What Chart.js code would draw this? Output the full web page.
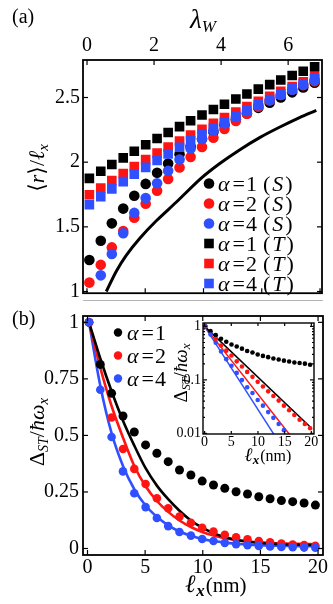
<!DOCTYPE html>
<html>
<head>
<meta charset="utf-8">
<script src="https://cdn.jsdelivr.net/npm/chart.js@4.4.1/dist/chart.umd.min.js"></script>
<style>
html, body { margin: 0; padding: 0; background: #fff; }
#tela { position: relative; width: 333px; height: 604px; overflow: hidden; }
#caixaA { position: absolute; left: 0; top: 0; width: 333px; height: 300px; }
#caixaB { position: absolute; left: 0; top: 300px; width: 333px; height: 304px; }
#caixaC { position: absolute; left: 150px; top: 310px; width: 172px; height: 160px; }
</style>
</head>
<body>
<div id="tela">
  <div id="caixaA"><canvas id="graficoA"></canvas></div>
  <div id="caixaB"><canvas id="graficoB"></canvas></div>
  <div id="caixaC"><canvas id="graficoC"></canvas></div>
</div>
<script>
// -------- dados painel (a) --------
const lambdaW = [0.07, 0.41, 0.74, 1.08, 1.41, 1.75, 2.09, 2.42, 2.76, 3.09, 3.43, 3.77, 4.10, 4.44, 4.77, 5.11, 5.45, 5.78, 6.12, 6.45, 6.79];
const rS1 = [1.244, 1.392, 1.527, 1.641, 1.740, 1.832, 1.918, 1.990, 2.061, 2.122, 2.18, 2.234, 2.285, 2.332, 2.377, 2.42, 2.46, 2.50, 2.54, 2.578, 2.615];
const rS2 = [1.069, 1.206, 1.341, 1.468, 1.570, 1.679, 1.779, 1.870, 1.959, 2.040, 2.117, 2.189, 2.256, 2.318, 2.375, 2.428, 2.477, 2.52, 2.56, 2.595, 2.625];
const rS4 = [null, 1.125, 1.29, 1.450, 1.608, 1.723, 1.837, 1.934, 2.021, 2.105, 2.18, 2.245, 2.30, 2.35, 2.395, 2.44, 2.48, 2.52, 2.56, 2.60, 2.635];
const rT1 = [1.875, 1.93, 1.982, 2.033, 2.084, 2.135, 2.183, 2.229, 2.275, 2.32, 2.365, 2.407, 2.448, 2.488, 2.527, 2.565, 2.60, 2.635, 2.67, 2.703, 2.737];
const rT2 = [1.748, 1.80, 1.857, 1.912, 1.967, 2.02, 2.07, 2.117, 2.163, 2.21, 2.255, 2.30, 2.345, 2.387, 2.43, 2.47, 2.509, 2.547, 2.585, 2.622, 2.66];
const rT4 = [1.672, 1.733, 1.794, 1.850, 1.907, 1.960, 2.013, 2.063, 2.115, 2.165, 2.215, 2.263, 2.31, 2.355, 2.40, 2.443, 2.485, 2.526, 2.567, 2.606, 2.645];
const curvaLambda = [0.575, 0.87, 1.17, 1.57, 2.06, 2.66, 3.40, 3.96, 4.55, 5.15, 5.74, 6.34, 6.84];
const curvaR = [1.0, 1.155, 1.28, 1.41, 1.545, 1.69, 1.875, 1.99, 2.095, 2.19, 2.27, 2.345, 2.40];
const ticksLambda = [0, 2, 4, 6];
const ticksR = [1, 1.5, 2, 2.5];
const ticksEllA = [0, 5, 10, 15, 20];
const legAlpha = ["1", "2", "4", "1", "2", "4"];
const legEstado = ["S", "S", "S", "T", "T", "T"];

// -------- dados painel (b) --------
const ellX = [0.13, 1.11, 2.09, 3.08, 4.06, 5.04, 6.02, 7.0, 7.98, 8.97, 9.95, 10.93, 11.91, 12.89, 13.88, 14.86, 15.84, 16.82, 17.8, 18.79, 19.77];
const gap1 = [1.0, 0.814, 0.686, 0.586, 0.515, 0.458, 0.421, 0.384, 0.347, 0.325, 0.298, 0.281, 0.266, 0.251, 0.241, 0.229, 0.22, 0.212, 0.207, 0.201, 0.192];
const gap2 = [1.0, null, 0.579, 0.44, 0.352, 0.285, 0.222, 0.178, 0.141, 0.114, 0.092, 0.075, 0.061, 0.05, 0.041, 0.033, 0.027, 0.022, 0.018, 0.015, 0.0125];
const gap4 = [1.0, 0.702, 0.493, 0.341, 0.244, 0.183, 0.135, 0.099, 0.073, 0.057, 0.042, 0.033, 0.025, 0.0195, 0.015, 0.0115, 0.009, 0.0069, 0.0053, 0.0041, 0.0032];
const ajuste1 = [1, 0.84, 0.695, 0.565, 0.455, 0.355, 0.278, 0.218, 0.167, 0.124, 0.092, 0.068, 0.051, 0.039, 0.031, 0.026, 0.022, 0.019, 0.017, 0.016, 0.015];
const ajuste2 = [1, 0.80, 0.63, 0.49, 0.365, 0.275, 0.21, 0.162, 0.124, 0.095, 0.073, 0.057, 0.045, 0.037, 0.031, 0.027, 0.024, 0.022, 0.021, 0.02, 0.019];
const ajuste4 = [1, 0.72, 0.51, 0.365, 0.262, 0.19, 0.14, 0.102, 0.075, 0.056, 0.042, 0.033, 0.026, 0.021, 0.017, 0.015, 0.013, 0.012, 0.011, 0.01, 0.01];
const ticksEll = [0, 5, 10, 15, 20];
const ticksGap = [0, 0.25, 0.5, 0.75, 1];
const legAlphaB = ["1", "2", "4"];

// -------- dados do inset (log) --------
const insetRetaX = [0, 20];
const insetReta1 = [1, 0.0126];
const insetReta2 = [1, 0.0029];
const insetReta4 = [1, 0.00078];
const ticksLog = [0.01, 0.1, 1];
const ticksLogMenores = [0.02, 0.03, 0.04, 0.05, 0.06, 0.07, 0.08, 0.09, 0.2, 0.3, 0.4, 0.5, 0.6, 0.7, 0.8, 0.9];

const PRETO = "#000000";
const VERMELHO = "#ff1414";
const AZUL = "#3050ff";
const FAM = '"Liberation Serif", "DejaVu Serif", serif';
const F = (tam, estilo) => (estilo || "") + " " + tam + "px " + FAM;

const pts = (xs, ys) => xs.map((x, i) => ({ x: x, y: ys[i] }));

// escreve texto com pedaços (italico, subscrito)
function textoRico(ctx, partes, x, y, alinhar) {
  let total = 0;
  partes.forEach(p => { ctx.font = p[1]; total += (p[3] || 0) + ctx.measureText(p[0]).width; });
  let cx = alinhar === "center" ? x - total / 2 : x;
  ctx.textAlign = "left";
  ctx.textBaseline = "alphabetic";
  partes.forEach(p => {
    ctx.font = p[1];
    cx += p[3] || 0;
    ctx.fillText(p[0], cx, y + (p[2] || 0));
    cx += ctx.measureText(p[0]).width;
  });
}

function textoVertical(ctx, partes, cx, cy) {
  ctx.save();
  ctx.translate(cx, cy);
  ctx.rotate(-Math.PI / 2);
  textoRico(ctx, partes, 0, 0, "center");
  ctx.restore();
}

// moldura + ticks para dentro
function moldura(specs, largura) {
  return {
    id: "moldura",
    afterDatasetsDraw(chart) {
      const ctx = chart.ctx;
      const a = chart.chartArea;
      ctx.save();
      ctx.strokeStyle = PRETO;
      ctx.lineWidth = 1.2;
      specs.forEach(s => {
        const sc = chart.scales[s.eixo];
        s.valores.forEach(v => {
          const p = sc.getPixelForValue(v);
          s.lados.forEach(lado => {
            ctx.beginPath();
            if (lado === "left") { ctx.moveTo(a.left, p); ctx.lineTo(a.left + s.tam, p); }
            if (lado === "right") { ctx.moveTo(a.right, p); ctx.lineTo(a.right - s.tam, p); }
            if (lado === "top") { ctx.moveTo(p, a.top); ctx.lineTo(p, a.top + s.tam); }
            if (lado === "bottom") { ctx.moveTo(p, a.bottom); ctx.lineTo(p, a.bottom - s.tam); }
            ctx.stroke();
          });
        });
      });
      ctx.lineWidth = largura;
      ctx.strokeRect(a.left, a.top, a.right - a.left, a.bottom - a.top);
      ctx.restore();
    }
  };
}

// tamanho fixo do eixo, sem margem extra para rotulos
function fixa(tam) {
  return s => {
    if (s.isHorizontal()) s.height = tam; else s.width = tam;
    s.paddingLeft = 0; s.paddingRight = 0; s.paddingTop = 0; s.paddingBottom = 0;
  };
}

function eixo(extra) {
  return Object.assign({
    type: "linear",
    grid: { display: false, drawTicks: false },
    border: { display: false }
  }, extra);
}

function rotulos(tam, pad) {
  return { color: PRETO, font: { family: FAM, size: tam }, padding: pad, maxRotation: 0, autoSkip: false, callback: v => String(v) };
}

const baseOpcoes = {
  responsive: true,
  maintainAspectRatio: false,
  animation: false,
  devicePixelRatio: 1,
  events: []
};

// -------- GRAFICO (a) --------
new Chart(document.getElementById("graficoA"), {
  type: "scatter",
  data: {
    datasets: [
      { data: pts(lambdaW, rS1), backgroundColor: PRETO, borderWidth: 0, pointRadius: 5.3, order: 6 },
      { data: pts(lambdaW, rS2), backgroundColor: VERMELHO, borderWidth: 0, pointRadius: 5.3, order: 5 },
      { data: pts(lambdaW, rS4), backgroundColor: AZUL, borderWidth: 0, pointRadius: 5.3, order: 4 },
      { data: pts(lambdaW, rT1), backgroundColor: PRETO, borderWidth: 0, pointStyle: "rect", pointRadius: 6.8, order: 3 },
      { data: pts(lambdaW, rT2), backgroundColor: VERMELHO, borderWidth: 0, pointStyle: "rect", pointRadius: 6.8, order: 2 },
      { data: pts(lambdaW, rT4), backgroundColor: AZUL, borderWidth: 0, pointStyle: "rect", pointRadius: 6.8, order: 1 },
      { data: pts(curvaLambda, curvaR), showLine: true, pointRadius: 0, borderColor: PRETO, borderWidth: 3, tension: 0.3, order: 7 }
    ]
  },
  options: Object.assign({}, baseOpcoes, {
    layout: { padding: { left: 0, right: 11, top: 0, bottom: 0 } },
    plugins: { legend: { display: false }, tooltip: { enabled: false } },
    scales: {
      x: eixo({ position: "top", min: -0.12, max: 7.01,
        afterBuildTicks: s => { s.ticks = ticksLambda.map(v => ({ value: v })); },
        afterFit: fixa(60),
        ticks: rotulos(20, 2) }),
      xl: eixo({ position: "bottom", min: -0.34, max: 20.17,
        afterBuildTicks: s => { s.ticks = ticksEllA.map(v => ({ value: v })); },
        afterFit: fixa(5),
        ticks: { display: false } }),
      y: eixo({ min: 0.987, max: 2.79,
        afterBuildTicks: s => { s.ticks = ticksR.map(v => ({ value: v })); },
        afterFit: fixa(83),
        ticks: rotulos(20, 3) })
    }
  }),
  plugins: [
    moldura([
      { eixo: "x", valores: ticksLambda, lados: ["top"], tam: 5 },
      { eixo: "xl", valores: ticksEllA, lados: ["bottom"], tam: 5 },
      { eixo: "y", valores: ticksR, lados: ["left", "right"], tam: 5 }
    ], 1.8),
    {
      id: "textosA",
      afterDraw(chart) {
        const ctx = chart.ctx;
        ctx.save();
        ctx.fillStyle = PRETO;
        textoRico(ctx, [["(a)", F(20)]], 12, 23);
        textoRico(ctx, [["λ", F(27, "italic")], ["W", F(17, "italic"), 4, 0]], 203, 28, "center");
        textoVertical(ctx, [["⟨", F(22)], ["r", F(22, "italic")], ["⟩", F(22)], ["/", F(22)], ["ℓ", F(22, "italic")], ["x", F(15, "italic"), 4]], 44, 168);
        // legenda
        const cores = [PRETO, VERMELHO, AZUL, PRETO, VERMELHO, AZUL];
        legAlpha.forEach((a, i) => {
          const y = 183.5 + 20 * i;
          ctx.fillStyle = cores[i];
          if (legEstado[i] === "S") {
            ctx.beginPath(); ctx.arc(209, y, 5.3, 0, Math.PI * 2); ctx.fill();
          } else {
            ctx.fillRect(204.2, y - 4.8, 9.6, 9.6);
          }
          ctx.fillStyle = PRETO;
          textoRico(ctx, [["α", F(22, "italic")], ["=", F(22), 0, 3], [a, F(22), 0, 1], ["(", F(22), 0, 6], [legEstado[i], F(22, "italic"), 0, 2], [")", F(22), 0, 2]], 218, y + 7);
        });
        ctx.restore();
      }
    }
  ]
});

// -------- GRAFICO (b) --------
new Chart(document.getElementById("graficoB"), {
  type: "scatter",
  data: {
    datasets: [
      { data: pts(ellX, gap1), backgroundColor: PRETO, borderWidth: 0, pointRadius: 4.5, order: 3 },
      { data: pts(ellX, gap2), backgroundColor: VERMELHO, borderWidth: 0, pointRadius: 4.3, order: 2 },
      { data: pts(ellX, gap4), backgroundColor: AZUL, borderWidth: 0, pointRadius: 4.3, order: 1 },
      { data: pts(ellX, ajuste1), showLine: true, pointRadius: 0, borderColor: PRETO, borderWidth: 2.6, tension: 0.3, order: 4 },
      { data: pts(ellX, ajuste2), showLine: true, pointRadius: 0, borderColor: VERMELHO, borderWidth: 2.6, tension: 0.3, order: 5 },
      { data: pts(ellX, ajuste4), showLine: true, pointRadius: 0, borderColor: AZUL, borderWidth: 2.6, tension: 0.3, order: 6 }
    ]
  },
  options: Object.assign({}, baseOpcoes, {
    layout: { padding: { left: 0, right: 10, top: 16, bottom: 0 } },
    plugins: { legend: { display: false }, tooltip: { enabled: false } },
    scales: {
      x: eixo({ position: "bottom", min: -0.39, max: 20.43,
        afterBuildTicks: s => { s.ticks = ticksEll.map(v => ({ value: v })); },
        afterFit: fixa(49),
        ticks: rotulos(20, 1) }),
      y: eixo({ min: -0.0287, max: 1.028,
        afterBuildTicks: s => { s.ticks = ticksGap.map(v => ({ value: v })); },
        afterFit: fixa(83),
        ticks: rotulos(20, 4) })
    }
  }),
  plugins: [
    moldura([
      { eixo: "x", valores: ticksEll, lados: ["top", "bottom"], tam: 5 },
      { eixo: "y", valores: ticksGap, lados: ["left", "right"], tam: 5 }
    ], 1.8),
    {
      id: "textosB",
      afterDraw(chart) {
        const ctx = chart.ctx;
        ctx.save();
        ctx.strokeStyle = "#b4b4b4";
        ctx.lineWidth = 1;
        ctx.beginPath(); ctx.moveTo(83, 0.5); ctx.lineTo(323, 0.5); ctx.stroke();
        ctx.fillStyle = PRETO;
        textoRico(ctx, [["(b)", F(20)]], 12, 25);
        textoVertical(ctx, [["Δ", F(22)], ["ST", F(14, "italic"), 4], ["/", F(22)], ["ħ", F(22, "italic")], ["ω", F(22, "italic")], ["x", F(15, "italic"), 4]], 44, 132);
        textoRico(ctx, [["ℓ", F(25, "bold italic")], ["x", F(17, "bold italic"), 4], ["(nm)", F(21), 0, 1]], 216, 292, "center");
        const cores = [PRETO, VERMELHO, AZUL];
        legAlphaB.forEach((a, i) => {
          const y = 32.5 + 23 * i;
          ctx.fillStyle = cores[i];
          ctx.beginPath(); ctx.arc(118, y, 4.2, 0, Math.PI * 2); ctx.fill();
          ctx.fillStyle = PRETO;
          textoRico(ctx, [["α", F(22, "italic")], ["=", F(22), 0, 3], [a, F(22), 0, 1]], 127, y + 7);
        });
        ctx.restore();
      }
    }
  ]
});

// -------- INSET (log) --------
new Chart(document.getElementById("graficoC"), {
  type: "scatter",
  data: {
    datasets: [
      { data: pts(ellX, gap1), backgroundColor: PRETO, borderWidth: 0, pointRadius: 2.3, order: 3 },
      { data: pts(ellX, gap2), backgroundColor: VERMELHO, borderWidth: 0, pointRadius: 2.3, order: 2 },
      { data: pts(ellX, gap4), backgroundColor: AZUL, borderWidth: 0, pointRadius: 2.3, order: 1 },
      { data: pts(insetRetaX, insetReta1), showLine: true, pointRadius: 0, borderColor: PRETO, borderWidth: 1.5, order: 4 },
      { data: pts(insetRetaX, insetReta2), showLine: true, pointRadius: 0, borderColor: VERMELHO, borderWidth: 1.5, order: 5 },
      { data: pts(insetRetaX, insetReta4), showLine: true, pointRadius: 0, borderColor: AZUL, borderWidth: 1.5, order: 6 }
    ]
  },
  options: Object.assign({}, baseOpcoes, {
    layout: { padding: { left: 0, right: 8, top: 13, bottom: 0 } },
    plugins: { legend: { display: false }, tooltip: { enabled: false } },
    scales: {
      x: eixo({ position: "bottom", min: -0.3, max: 20.5,
        afterBuildTicks: s => { s.ticks = ticksEll.map(v => ({ value: v })); },
        afterFit: fixa(36),
        ticks: rotulos(14, 0) }),
      y: eixo({ type: "logarithmic", min: 0.00974, max: 1.157,
        afterBuildTicks: s => { s.ticks = ticksLog.map(v => ({ value: v })); },
        afterFit: fixa(53),
        ticks: rotulos(14, 2) })
    }
  }),
  plugins: [
    moldura([
      { eixo: "x", valores: ticksEll, lados: ["top", "bottom"], tam: 3 },
      { eixo: "y", valores: ticksLog, lados: ["left", "right"], tam: 4 },
      { eixo: "y", valores: ticksLogMenores, lados: ["left", "right"], tam: 2 }
    ], 1.4),
    {
      id: "textosC",
      afterDraw(chart) {
        const ctx = chart.ctx;
        ctx.save();
        ctx.fillStyle = PRETO;
        textoVertical(ctx, [["Δ", F(19)], ["ST", F(12, "italic"), 3], ["/", F(19)], ["ħ", F(19, "italic")], ["ω", F(19, "italic")], ["x", F(13, "italic"), 3]], 37, 63);
        textoRico(ctx, [["ℓ", F(19, "bold italic")], ["x", F(13, "bold italic"), 3], ["(nm)", F(16), 0, 1]], 118, 151, "center");
        ctx.restore();
      }
    }
  ]
});
</script>
</body>
</html>
